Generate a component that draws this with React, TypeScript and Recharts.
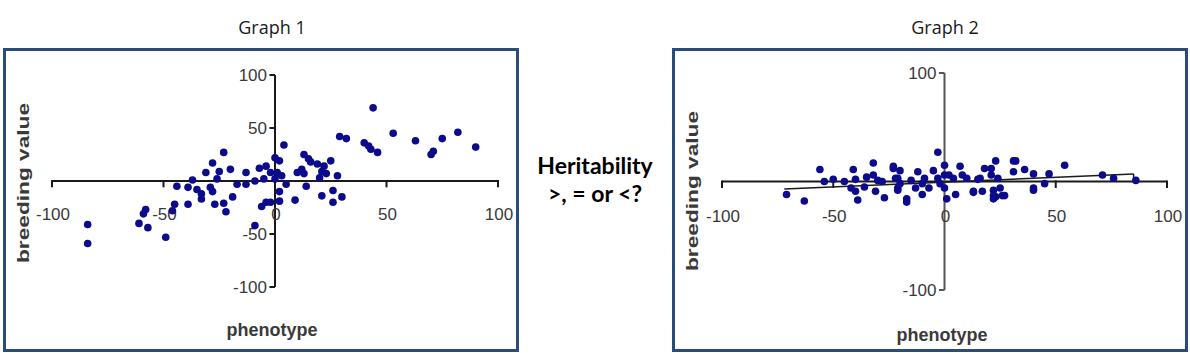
import React from 'react';
import { ScatterChart, Scatter, XAxis, YAxis, ReferenceLine, ReferenceDot } from 'recharts';

// Graph 1: phenotype vs breeding value (strong relationship)
const graph1Phenotype = [
  -84, -84, -61, -59, -58, -57, -49, -46, -45, -39, -44, -39, -37, -35, -33, -33, -31, -29, -28, -28,
  -27, -26, -25, -23, -23, -22, -20, -19, -17, -13, -13, -9, -9, -7, -5, -6, -4, -4, -2, -2,
  0, 0, 1, 2, 2, 2, 3, 4, 5, 9, 10, 12, 13, 13, 14, 15, 16, 19, 20, 21,
  21, 22, 23, 25, 26, 26, 28, 30, 29, 32, 40, 42, 43, 44, 46, 53, 63, 70, 71, 75,
  82, 90,
];
const graph1Breeding = [
  -41, -59, -40, -31, -27, -44, -53, -28, -22, -22, -5, -6, 1, -8, -12, -17, 8, -6, -10, 17,
  -22, 2, 9, 27, -21, -29, 11, -15, -3, 8, -3, 0, -42, 12, 2, -24, -20, 14, 8, -20,
  22, 2, 8, 19, -19, -10, 5, 34, -3, -18, 8, 11, 25, 7, -5, 21, 18, 16, 3, 9,
  -14, 14, 7, 19, -20, -9, 5, -15, 42, 40, 36, 33, 30, 69, 27, 45, 38, 25, 28, 40,
  46, 32,
];

// Graph 2: phenotype vs breeding value (weak relationship)
const graph2Phenotype = [
  -71, -63, -56, -54, -41, -40, -42, -40, -39, -36, -32, -32, -30, -31, -27, -28, -23, -21, -21, -23,
  -20, -22, -20, -21, -17, -15, -13, -10, -9, -7, -3, -2, 0, 1, 0, -3, 0, -5, 2, 4,
  7, 8, 10, 13, 16, 17, 18, 21, 21, 23, 22, 24, 25, 27, 23, 31, 32, 31, 36, 40,
  40, 45, 47, 54, 71, 76, 86, 13, 22, 26, 40, -17, 22, -10, 5, -45, -50, -35, -12, 15,
];
const graph2Breeding = [
  -12, -18, 11, 0, 11, 2, -6, -9, -17, -5, 17, 6, 1, -9, -15, 0, 12, 3, -6, 14,
  10, 3, -2, -8, -16, 1, -6, -2, 3, -6, 3, -2, -6, -16, 6, 27, 15, 10, 6, 3,
  14, 6, 3, -9, 3, -9, 12, 6, 12, 19, -8, 3, -6, -13, -14, 19, 19, 9, 11, 7,
  -6, -2, 7, 15, 6, 3, 1, -10, -13, -13, -8, -19, -16, -12, -12, 0, 2, 4, 9, 2,
];

const xTickValues = [-100, -50, 0, 50, 100];
const graph1YTicks = [100, 50, -50, -100];
const graph2YTicks = [100, -100];
const graph2Trend = [
  { x: -72, y: -7 },
  { x: 85, y: 7 },
  { x: 85, y: 0 },
];

const toPoints = (xs: number[], ys: number[]) => xs.map((x, i) => ({ x, y: ys[i] }));
const graph1Data = toPoints(graph1Phenotype, graph1Breeding);
const graph2Data = toPoints(graph2Phenotype, graph2Breeding);

const DOT = '#0b0b8c';
const BORDER = '#2b4b78';
const TICK_FONT = { fontFamily: '"Liberation Sans", Arial, sans-serif', fontSize: 17, fill: '#3a3a3a' };

const Dot = (p: any) => <circle cx={p.cx} cy={p.cy} r={3.8} fill={DOT} />;

const labelShape = (text: string, anchor: 'start' | 'middle' | 'end', dx: number) => (p: any) => (
  <text x={p.cx + dx} y={p.cy} textAnchor={anchor} dominantBaseline="central" {...TICK_FONT}>
    {text}
  </text>
);

type PanelProps = {
  data: { x: number; y: number }[];
  margin: { top: number; right: number; bottom: number; left: number };
  yTicks: number[];
  yAxisColor: string;
  trend?: { x: number; y: number }[];
};

const Panel = ({ data, margin, yTicks, yAxisColor, trend }: PanelProps) => (
  <ScatterChart width={510} height={298} margin={margin}>
    <XAxis type="number" dataKey="x" domain={[-100, 100]} hide />
    <YAxis type="number" dataKey="y" domain={[-100, 100]} hide />
    <ReferenceLine segment={[{ x: -100, y: 0 }, { x: 100, y: 0 }]} stroke="#1a1a1a" strokeWidth={2} />
    <ReferenceLine segment={[{ x: 0, y: -100 }, { x: 0, y: 100 }]} stroke={yAxisColor} strokeWidth={2} />
    {xTickValues.filter((v) => v !== 0).map((v) => (
      <ReferenceLine key={'xt' + v} segment={[{ x: v, y: 1 }, { x: v, y: -6 }]} stroke="#1a1a1a" strokeWidth={2} />
    ))}
    {yTicks.map((v) => (
      <ReferenceLine key={'yt' + v} segment={[{ x: -2.5, y: v }, { x: 0, y: v }]} stroke={yAxisColor} strokeWidth={2} />
    ))}
    {trend &&
      trend.slice(1).map((p, i) => (
        <ReferenceLine key={'tr' + i} segment={[trend[i], p]} stroke="#1a1a1a" strokeWidth={1.5} />
      ))}
    {xTickValues.map((v) => (
      <ReferenceDot key={'xl' + v} x={v} y={-32} r={0} shape={labelShape(String(v), 'middle', 1)} />
    ))}
    {yTicks.map((v) => (
      <ReferenceDot key={'yl' + v} x={0} y={v} r={0} shape={labelShape(String(v), 'end', -8)} />
    ))}
    <Scatter data={data} shape={Dot} isAnimationActive={false} />
  </ScatterChart>
);

const boxStyle = (left: number, width: number): React.CSSProperties => ({
  position: 'absolute',
  left,
  top: 48,
  width,
  height: 304,
  boxSizing: 'border-box',
  border: `3px solid ${BORDER}`,
  background: '#fff',
});

const YTitle = ({ cy }: { cy: number }) => (
  <svg width={30} height={298} style={{ position: 'absolute', left: 0, top: 0 }}>
    <text
      transform={`translate(17, ${cy}) rotate(-90)`}
      textAnchor="middle"
      dominantBaseline="central"
      textLength={160}
      lengthAdjust="spacingAndGlyphs"
      style={{ fontFamily: '"Liberation Sans", Arial, sans-serif', fontSize: 17, fontWeight: 700, fill: '#3a3a3a' }}
    >
      breeding value
    </text>
  </svg>
);

const XTitle = ({ cx, cy }: { cx: number; cy: number }) => (
  <div
    style={{
      position: 'absolute',
      left: cx - 60,
      top: cy - 11,
      width: 120,
      textAlign: 'center',
      fontFamily: '"Liberation Sans", Arial, sans-serif',
      fontSize: 18,
      fontWeight: 700,
      color: '#3a3a3a',
      lineHeight: '22px',
    }}
  >
    phenotype
  </div>
);

const titleStyle = (cx: number): React.CSSProperties => ({
  position: 'absolute',
  left: cx - 70,
  top: 15,
  width: 140,
  textAlign: 'center',
  fontFamily: '"Open Sans", Lato, sans-serif',
  fontSize: 18,
  lineHeight: '24px',
  color: '#1a1a1a',
});

export default function App() {
  return (
    <div style={{ position: 'absolute', left: 0, top: 0, width: 1190, height: 353, background: '#fff', overflow: 'hidden' }}>
      <div style={titleStyle(272)}>Graph 1</div>
      <div style={titleStyle(945)}>Graph 2</div>

      <div style={boxStyle(3, 516)}>
        <Panel data={graph1Data} margin={{ top: 24, right: 18, bottom: 62, left: 46 }} yTicks={graph1YTicks} yAxisColor="#1a1a1a" />
        <YTitle cy={132} />
        <XTitle cx={266} cy={279} />
      </div>

      <div
        style={{
          position: 'absolute',
          left: 515,
          top: 151,
          width: 160,
          textAlign: 'center',
          fontFamily: 'Lato, "Open Sans", sans-serif',
          fontWeight: 700,
          fontSize: 23,
          lineHeight: '28px',
          color: '#000',
        }}
      >
        <div>Heritability</div>
        <div>{'>, = or <?'}</div>
      </div>

      <div style={boxStyle(672, 516)}>
        <Panel
          data={graph2Data}
          margin={{ top: 22, right: 18, bottom: 59, left: 47 }}
          yTicks={graph2YTicks}
          yAxisColor="#555"
          trend={graph2Trend}
        />
        <YTitle cy={140} />
        <XTitle cx={267} cy={284} />
      </div>
    </div>
  );
}
